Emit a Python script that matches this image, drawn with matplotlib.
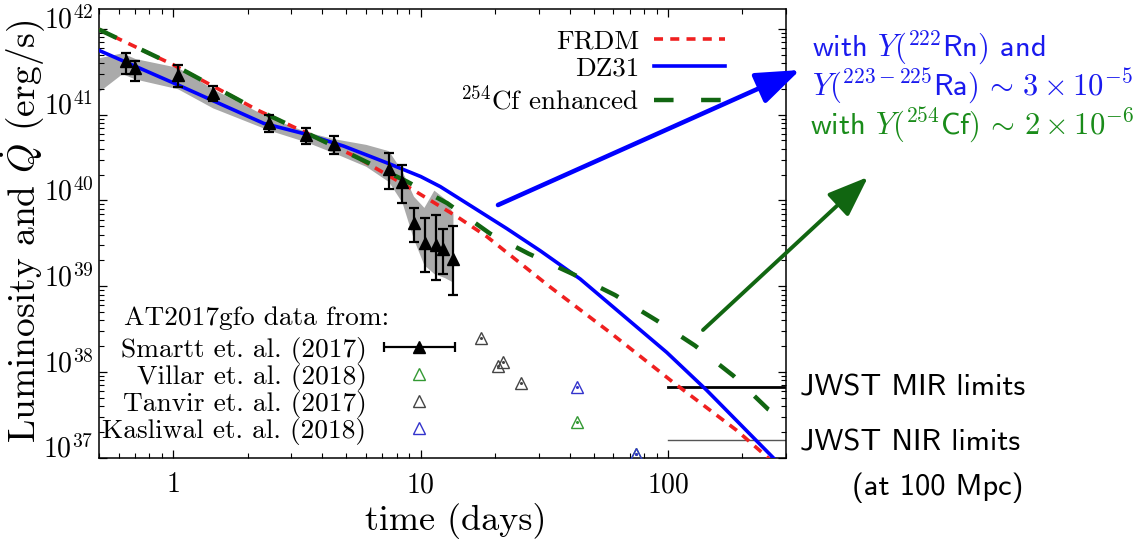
import numpy as np
import matplotlib
matplotlib.use("Agg")
import matplotlib.pyplot as plt
from matplotlib import ticker
from matplotlib.container import ErrorbarContainer
from matplotlib.legend_handler import HandlerErrorbar

plt.rcParams["mathtext.fontset"] = "cm"
plt.rcParams["font.family"] = "cmr10"
plt.rcParams["axes.unicode_minus"] = False
plt.rcParams["axes.formatter.use_mathtext"] = True

# ---- model heating rates: time (days), luminosity (erg/s) ----
frdm_t = [0.5, 1.0, 2.2, 3.5, 5.5, 9.0, 14.0, 18.5, 33.4, 59.2, 105, 189.5, 300]
frdm_L = [9.8e41, 3.8e41, 1.12e41, 6.0e40, 3.2e40, 1.41e40, 6.5e39, 3.8e39,
          9.8e38, 2.8e38, 7.6e37, 2.1e37, 6.6e36]

dz31_t = [0.5, 1.0, 2.32, 3.45, 4.88, 7.4, 10, 12, 16, 22.3, 30.4, 44.1, 98.8, 143, 267, 300]
dz31_L = [5.6e41, 2.34e41, 7.9e40, 5.9e40, 4.3e40, 2.7e40, 1.9e40, 1.45e40, 8.6e39,
          4.7e39, 2.6e39, 1.22e39, 1.7e38, 6.2e37, 1.0e37, 7.2e36]

cf_t = [0.5, 1.0, 2.2, 3.5, 5.5, 8.8, 12.8, 19.1, 27.3, 40.8, 61.1, 90, 128.5, 183.6, 254, 300]
cf_L = [9.8e41, 3.8e41, 1.12e41, 6.0e40, 3.2e40, 1.66e40, 9.3e39, 4.1e39, 2.4e39,
        1.41e39, 7.9e38, 4.0e38, 2.04e38, 9.1e37, 3.7e37, 2.8e37]

# ---- AT2017gfo bolometric data ----
smartt_t = [0.64, 0.70, 1.04, 1.44, 2.43, 3.45, 4.44, 7.41, 8.40, 9.35, 10.4, 11.5, 12.3, 13.5]
smartt_L = [4.17e41, 3.47e41, 2.88e41, 1.78e41, 7.9e40, 5.75e40, 4.6e40, 2.34e40,
            1.66e40, 5.4e39, 3.2e39, 3.0e39, 2.75e39, 2.1e39]
smartt_lo = [2.95e41, 2.45e41, 2.09e41, 1.45e41, 6.2e40, 4.6e40, 3.5e40, 1.35e40,
             9.3e39, 3.3e39, 1.45e39, 1.2e39, 1.41e39, 7.9e38]
smartt_hi = [5.25e41, 4.17e41, 3.8e41, 2.14e41, 1.0e41, 6.9e40, 5.6e40, 3.6e40,
             2.57e40, 8.1e39, 6.2e39, 6.8e39, 4.7e39, 5.0e39]

band_t = [0.5, 0.62, 0.70, 1.04, 1.44, 2.43, 3.45, 4.44, 6.0, 7.41, 8.40, 9.35,
          10.3, 11.3, 12.5, 13.5]
band_lo = [1.86e41, 3.0e41, 2.6e41, 2.0e41, 1.2e41, 6.6e40, 4.8e40, 3.6e40, 2.5e40,
           1.66e40, 9.5e39, 3.55e39, 1.78e39, 1.41e39, 1.26e39, 1.12e39]
band_hi = [4.6e41, 5.25e41, 4.5e41, 3.55e41, 2.0e41, 9.3e40, 6.3e40, 5.25e40, 4.5e40,
           3.8e40, 2.2e40, 1.12e40, 8.3e39, 1.32e40, 1.05e40, 7.1e39]

villar_t = [43.0, 74.3]
villar_L = [2.63e37, 1.12e37]
tanvir_t = [17.5, 20.6, 21.6, 25.5]
tanvir_L = [2.5e38, 1.17e38, 1.32e38, 7.4e37]
kasliwal_t = [43.0, 74.3]
kasliwal_L = [6.8e37, 1.12e37]

# ---- JWST detection limits at 100 Mpc ----
jwst_t = [100, 300]
jwst_mir = 6.8e37
jwst_nir = 1.6e37

y_ticks = [1e37, 1e38, 1e39, 1e40, 1e41, 1e42]
x_ticks = [1, 10, 100]

fig = plt.figure(figsize=(11.4, 5.39), dpi=100)
ax = fig.add_axes([99 / 1140, 81 / 539, 687 / 1140, 449 / 539])
ax.set_xscale("log")
ax.set_yscale("log")
ax.set_xlim(0.5, 300)
ax.set_ylim(1e37, 1.7e42)

ax.fill_between(band_t, band_lo, band_hi, color="#aaaaaa", lw=0, zorder=1)

l_frdm, = ax.plot(frdm_t, frdm_L, color="#f02020", lw=2.6, dashes=(2.5, 2.0),
                  label="FRDM", zorder=3)
l_dz, = ax.plot(dz31_t, dz31_L, color="#0000ff", lw=2.6, label="DZ31", zorder=3)
l_cf, = ax.plot(cf_t, cf_L, color="#116611", lw=3.2, dashes=(4.4, 6.2),
                label=r"$^{254}$Cf enhanced", zorder=4)

yerr = [np.array(smartt_L) - np.array(smartt_lo), np.array(smartt_hi) - np.array(smartt_L)]
ax.errorbar(smartt_t, smartt_L, yerr=yerr, fmt="^", color="k", ms=9, elinewidth=1.6,
            capsize=3.6, capthick=1.6, zorder=5)

open_kw = dict(ls="none", marker="^", ms=9, mfc="none", mew=1.0, zorder=5)
h_v, = ax.plot(villar_t, villar_L, mec="#339933", label="Villar et. al. (2018)", **open_kw)
h_t, = ax.plot(tanvir_t, tanvir_L, mec="#444444", label="Tanvir et. al. (2017)", **open_kw)
h_k, = ax.plot(kasliwal_t, kasliwal_L, mec="#3333cc", label="Kasliwal et. al. (2018)", **open_kw)
for tt, LL, cc in [(villar_t, villar_L, "#339933"), (tanvir_t, tanvir_L, "#444444"),
                   (kasliwal_t, kasliwal_L, "#3333cc")]:
    ax.plot(tt, LL, ls="none", marker="o", ms=1.2, color=cc, zorder=5)

ax.plot(jwst_t, [jwst_mir, jwst_mir], color="k", lw=2.0, zorder=2)
ax.plot(jwst_t, [jwst_nir, jwst_nir], color="#555555", lw=1.0, zorder=2)

# axes styling
ax.tick_params(which="both", direction="in", top=True, right=True, labelsize=20)
ax.tick_params(which="major", length=6, width=0.9)
ax.tick_params(which="minor", length=3.5, width=0.8)
for s in ax.spines.values():
    s.set_linewidth(1.1)
ax.xaxis.set_major_locator(ticker.FixedLocator(x_ticks))
ax.xaxis.set_major_formatter(ticker.FuncFormatter(lambda v, p: f"{v:g}"))
ax.xaxis.set_minor_locator(ticker.LogLocator(base=10, subs=np.arange(2, 10), numticks=20))
ax.xaxis.set_minor_formatter(ticker.NullFormatter())
ax.yaxis.set_major_locator(ticker.FixedLocator(y_ticks))
ax.yaxis.set_major_formatter(ticker.LogFormatterSciNotation())
ax.yaxis.set_minor_locator(ticker.LogLocator(base=10, subs=np.arange(2, 10), numticks=20))
ax.yaxis.set_minor_formatter(ticker.NullFormatter())
ax.tick_params(axis="x", pad=10)
ax.tick_params(axis="y", pad=4)
plt.setp(ax.get_yticklabels(), va="baseline")

ax.set_xlabel("time (days)", fontsize=26)
ax.set_ylabel(r"Luminosity and $\dot{Q}$ (erg/s)", fontsize=27)
ax.xaxis.set_label_coords((456 - 99) / 687, -0.1)
ax.yaxis.set_label_coords(-0.074, 0.505)

# model legend
leg1 = ax.legend(handles=[l_frdm, l_dz, l_cf], loc="upper right", bbox_to_anchor=(0.911, 0.955),
                 frameon=False, markerfirst=False, fontsize=19.5, handlelength=2.6,
                 handletextpad=0.57, labelspacing=0.14, borderpad=0, borderaxespad=0)
ax.add_artist(leg1)

# data legend
proxy = ax.errorbar([np.nan], [np.nan], xerr=[1.0], fmt="^", color="k", ms=9,
                    elinewidth=1.6, capsize=3.6, capthick=1.6, label="Smartt et. al. (2017)")
leg2 = ax.legend(handles=[proxy, h_v, h_t, h_k], loc="lower left", bbox_to_anchor=(0.005, 0.03),
                 frameon=False, markerfirst=False, fontsize=19.7, handlelength=2.65,
                 handletextpad=0.6, labelspacing=0.0, borderpad=0, borderaxespad=0,
                 handler_map={ErrorbarContainer: HandlerErrorbar(xerr_size=1.3)})
ax.text((257 - 99) / 687, (458 - 318) / 449, "AT2017gfo data from:", transform=ax.transAxes,
        fontsize=19.7, ha="center", va="center")

# annotations beside the axes
W, H = 1140, 539
ax.annotate("", xy=(800, H - 70), xytext=(498, H - 205), xycoords="figure pixels",
            textcoords="figure pixels", annotation_clip=False,
            arrowprops=dict(arrowstyle="-|>,head_length=2.7,head_width=1.0", mutation_scale=10,
                            lw=3.3, color="#0000ff", shrinkA=0, shrinkB=0))
ax.annotate("", xy=(868, H - 177), xytext=(703, H - 330), xycoords="figure pixels",
            textcoords="figure pixels", annotation_clip=False,
            arrowprops=dict(arrowstyle="-|>,head_length=2.5,head_width=0.95", mutation_scale=10,
                            lw=2.8, color="#116611", shrinkA=0, shrinkB=0))

blue_txt = "#1a1aee"
green_txt = "#1a8c1a"
fs_side = 22
fig.text(812 / W, 1 - 48 / H, r"with $Y(^{222}$Rn$)$ and", fontsize=fs_side, family="cmss10",
         color=blue_txt, va="center", ha="left")
fig.text(812 / W, 1 - 86 / H, r"$Y(^{223-225}$Ra$)\,\sim\,3\times10^{-5}$", fontsize=fs_side,
         family="cmss10", color=blue_txt, va="center", ha="left")
fig.text(810 / W, 1 - 125 / H, r"with $Y(^{254}$Cf$)\,\sim\,2\times10^{-6}$", fontsize=fs_side,
         family="cmss10", color=green_txt, va="center", ha="left")
fig.text(800 / W, 1 - 388 / H, "JWST MIR limits", fontsize=fs_side, family="cmss10",
         va="center", ha="left")
fig.text(800 / W, 1 - 443 / H, "JWST NIR limits", fontsize=fs_side, family="cmss10",
         va="center", ha="left")
fig.text(852 / W, 1 - 488 / H, "(at 100 Mpc)", fontsize=fs_side, family="cmss10",
         va="center", ha="left")

fig.savefig("out.png", dpi=100)
